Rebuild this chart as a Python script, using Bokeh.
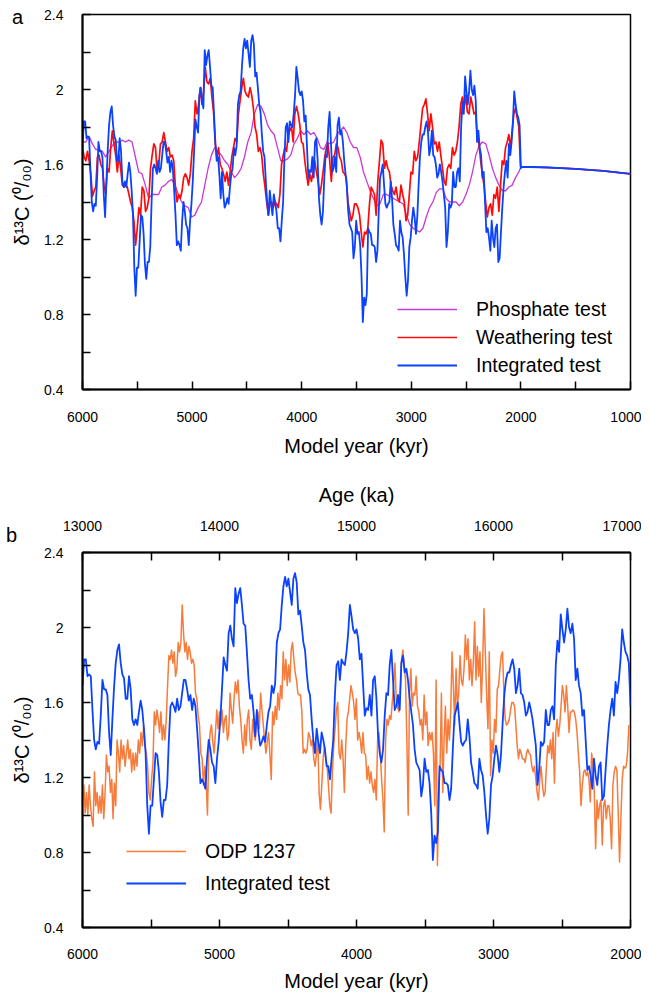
import numpy as np
from bokeh.plotting import figure
from bokeh.models import (Range1d, LinearAxis, FixedTicker, NumeralTickFormatter,
                          Legend, LegendItem, Div)
from bokeh.layouts import column
from bokeh.embed import file_html
from bokeh.resources import INLINE

# ---------------- data ----------------
# Panel a / b : Integrated test (model year 6000 -> 2000 kyr, regular steps)
integrated_start, integrated_end = 6000, 2000
integrated_d13c = [
    1.69, 1.83, 1.83, 1.74, 1.75, 1.74, 1.56, 1.40, 1.35, 1.39, 1.38, 1.53, 1.72, 1.67, 1.67, 1.64,
    1.44, 1.32, 1.51, 1.68, 1.81, 1.88, 1.91, 1.81, 1.75, 1.73, 1.62, 1.62, 1.74, 1.67, 1.51, 1.48,
    1.51, 1.48, 1.55, 1.61, 1.56, 1.46, 1.33, 1.05, 0.90, 1.05, 1.05, 1.19, 1.33, 1.32, 1.23, 1.07,
    0.99, 1.08, 1.08, 1.16, 1.40, 1.58, 1.60, 1.58, 1.55, 1.62, 1.56, 1.58, 1.65, 1.72, 1.72, 1.67,
    1.61, 1.64, 1.56, 1.62, 1.58, 1.46, 1.33, 1.17, 1.19, 1.17, 1.14, 1.30, 1.40, 1.35, 1.28, 1.26,
    1.17, 1.30, 1.39, 1.51, 1.67, 1.84, 1.80, 1.77, 1.97, 2.01, 1.94, 1.90, 2.21, 2.13, 2.18, 2.21,
    2.12, 2.02, 2.01, 1.87, 1.72, 1.62, 1.64, 1.55, 1.42, 1.56, 1.44, 1.37, 1.39, 1.42, 1.39, 1.48,
    1.55, 1.58, 1.69, 1.65, 1.70, 1.92, 1.97, 1.99, 2.12, 2.22, 2.27, 2.22, 2.26, 2.19, 2.12, 2.26,
    2.29, 2.24, 2.07, 2.09, 2.01, 1.92, 1.88, 1.76, 1.67, 1.64, 1.51, 1.40, 1.33, 1.46, 1.39, 1.33,
    1.44, 1.40, 1.35, 1.26, 1.26, 1.19, 1.30, 1.40, 1.64, 1.80, 1.82, 1.72, 1.83, 1.81, 1.80, 1.87,
    1.97, 2.12, 2.06, 1.99, 1.97,
    1.99, 1.94, 1.83, 1.86, 1.69, 1.53, 1.57, 1.56, 1.64, 1.53, 1.72, 1.74, 1.62, 1.42, 1.33, 1.28,
    1.35, 1.53, 1.65, 1.64, 1.80, 1.88, 1.72, 1.56, 1.58, 1.64, 1.56, 1.81, 1.85, 1.76, 1.78, 1.72,
    1.62, 1.55, 1.48, 1.35, 1.28, 1.26, 1.24, 1.10, 1.16, 1.30, 1.23, 1.24, 1.17, 1.01, 0.76, 0.89,
    0.85, 0.91, 1.26, 1.24, 1.23, 1.17, 1.17, 1.16, 1.08, 1.14, 1.35, 1.53, 1.56, 1.60, 1.49, 1.39,
    1.37, 1.39, 1.40, 1.51, 1.42, 1.28, 1.23, 1.17, 1.16, 1.14, 1.30, 1.24, 1.21, 1.12, 1.00, 0.90,
    0.98, 1.16, 1.21, 1.30, 1.37, 1.32, 1.23, 1.32, 1.49, 1.64, 1.72, 1.76, 1.76, 1.80, 1.83, 1.78,
    1.65, 1.69, 1.78, 1.65, 1.64, 1.60, 1.53, 1.55, 1.60, 1.56, 1.51, 1.44, 1.37, 1.16, 1.24, 1.39,
    1.37, 1.39, 1.56, 1.48, 1.48, 1.56, 1.58, 1.51, 1.80, 1.93, 1.87, 2.07, 1.99, 1.92, 1.99, 2.10,
    2.00, 1.97, 2.02, 1.94, 1.72, 1.78, 1.69, 1.65, 1.53, 1.56, 1.40, 1.24, 1.26, 1.21, 1.14, 1.30,
    1.21, 1.16, 1.26, 1.28, 1.08, 1.10, 1.24, 1.37, 1.48, 1.56, 1.62, 1.53, 1.71, 1.65, 1.72, 1.83,
    1.99, 1.92, 1.87, 1.85, 1.81, 1.58,
]

# Panel a : Weathering test (6000 -> 2004 kyr, regular steps)
weathering_start, weathering_end = 6000, 2004
weathering_d13c = [
    1.69, 1.64, 1.62, 1.67, 1.62, 1.55, 1.43, 1.46, 1.48, 1.64, 1.65, 1.60, 1.58, 1.49, 1.44, 1.58,
    1.56, 1.69, 1.78, 1.71, 1.65, 1.56, 1.65, 1.58, 1.49, 1.48, 1.49, 1.48, 1.44, 1.40, 1.37, 1.30,
    1.17, 1.26, 1.37, 1.33, 1.48, 1.46, 1.35, 1.37, 1.42, 1.58, 1.65, 1.71, 1.69, 1.56, 1.60, 1.71,
    1.72, 1.77, 1.72, 1.67, 1.69, 1.64, 1.65, 1.62, 1.48, 1.40, 1.44, 1.42, 1.46, 1.53, 1.55, 1.53,
    1.49, 1.55, 1.67, 1.74, 1.94, 1.87, 1.92, 2.01, 1.92, 1.99, 2.12, 2.04, 2.03, 2.06, 1.96, 1.88,
    1.71, 1.64, 1.69, 1.60, 1.58, 1.55, 1.51, 1.56, 1.49, 1.56, 1.64, 1.69, 1.74, 1.72, 1.87, 1.94,
    2.01, 2.06, 1.99, 1.97, 1.96, 2.01, 1.97, 1.90, 1.80, 1.76, 1.67, 1.69, 1.65, 1.55, 1.48, 1.40,
    1.33, 1.39, 1.40, 1.37, 1.40, 1.39, 1.37, 1.44, 1.60, 1.65, 1.69, 1.67, 1.76, 1.78, 1.80, 1.72,
    1.87, 1.91, 1.87, 1.81, 1.72, 1.71, 1.62, 1.55, 1.49, 1.55, 1.51, 1.56, 1.62, 1.56, 1.51, 1.44,
    1.49, 1.56, 1.64, 1.69, 1.71, 1.62, 1.51, 1.64, 1.65, 1.71, 1.69, 1.64, 1.62, 1.56, 1.55, 1.53,
    1.40, 1.35, 1.30, 1.33, 1.39,
    1.39, 1.37, 1.33, 1.24, 1.16, 1.24, 1.23, 1.26, 1.39, 1.48, 1.46, 1.44, 1.33, 1.51, 1.62, 1.73,
    1.71, 1.58, 1.62, 1.58, 1.56, 1.49, 1.46, 1.44, 1.48, 1.42, 1.40, 1.49, 1.44, 1.40, 1.30, 1.33,
    1.44, 1.56, 1.55, 1.67, 1.62, 1.64, 1.72, 1.81, 1.90, 1.92, 1.95, 1.87, 1.78, 1.87, 1.80, 1.71,
    1.72, 1.67, 1.72, 1.65, 1.58, 1.51, 1.49, 1.58, 1.60, 1.58, 1.69, 1.65, 1.67, 1.72, 1.80, 1.92,
    1.96, 1.90, 1.97, 1.88, 1.87, 1.96, 1.92, 1.87, 1.88, 1.74, 1.71, 1.62, 1.55, 1.49, 1.40, 1.32,
    1.37, 1.39, 1.33, 1.44, 1.42, 1.48, 1.35, 1.49, 1.62, 1.60, 1.69, 1.72, 1.76, 1.69, 1.78, 1.87,
    1.90, 1.85, 1.80, 1.59,
]

# Panel a : Phosphate test (6000 -> 2019 kyr, regular steps)
phosphate_start, phosphate_end = 6000, 2019
phosphate_d13c = [
    1.72, 1.72, 1.75, 1.71, 1.68, 1.68, 1.67, 1.64, 1.67, 1.70, 1.72, 1.72, 1.73, 1.72, 1.73, 1.72,
    1.64, 1.56, 1.55, 1.49, 1.42, 1.44, 1.44, 1.44, 1.48, 1.49, 1.51, 1.52, 1.49, 1.44, 1.40, 1.38,
    1.37, 1.32, 1.33, 1.37, 1.40, 1.49, 1.58, 1.65, 1.69, 1.67, 1.65, 1.62, 1.60, 1.56, 1.53, 1.55,
    1.58, 1.64, 1.72, 1.77, 1.87, 1.92, 1.91, 1.87, 1.81, 1.78, 1.76, 1.69, 1.62, 1.62, 1.63, 1.65,
    1.71, 1.74, 1.78, 1.76, 1.78, 1.76, 1.77, 1.74, 1.69, 1.68, 1.72, 1.71, 1.72, 1.76, 1.78, 1.80,
    1.77, 1.72, 1.69,
    1.69, 1.64, 1.56, 1.51, 1.46, 1.42, 1.38, 1.39, 1.44, 1.44, 1.43, 1.42, 1.41, 1.40, 1.39, 1.33,
    1.28, 1.26, 1.25, 1.24, 1.26, 1.32, 1.37, 1.40, 1.45, 1.47, 1.47, 1.42, 1.40, 1.40, 1.40, 1.38,
    1.40, 1.44, 1.49, 1.56, 1.65, 1.70, 1.72, 1.71, 1.65, 1.58, 1.53, 1.49, 1.46, 1.46, 1.48, 1.49,
    1.53, 1.56,
]

# Panel a : common tail after 2000 kyr (all three runs coincide)
tail_years = [2000, 1750, 1500, 1250, 1000]
tail_d13c = [1.588, 1.584, 1.577, 1.566, 1.550]

# Panel b : ODP 1237 record on the model-year axis (6000 -> 2012 kyr, regular steps)
odp_start, odp_end = 6000, 2012
odp1237_d13c = [
    1.08, 1.16, 1.01, 1.12, 1.00, 1.16, 1.05, 0.98, 0.94, 1.23, 1.05, 1.12, 1.01, 1.10, 1.01, 1.16,
    0.98, 1.12, 1.32, 1.23, 1.26, 1.12, 1.19, 0.98, 1.17, 1.05, 1.40, 1.33, 1.23, 1.40, 1.30, 1.37,
    1.26, 1.33, 1.40, 1.30, 1.35, 1.23, 1.33, 1.24, 1.33, 1.26, 1.40, 1.33, 1.44, 1.37, 1.48, 1.37,
    1.33, 1.26, 1.12, 1.08, 1.19, 1.28, 1.55, 1.48, 1.56, 1.51, 1.44, 1.55, 1.40, 1.48, 1.40, 1.51,
    1.69, 1.85, 1.83, 1.88, 1.81, 1.87, 1.74, 1.78, 1.92, 1.87, 1.92, 2.12, 1.97, 1.87, 1.92, 1.83,
    1.90, 1.87, 1.81, 1.83, 1.80, 1.65, 1.62, 1.53, 1.48, 1.33, 1.30, 1.16, 1.26, 1.19, 1.00, 1.33,
    1.44, 1.48, 1.39, 1.33, 1.44, 1.56, 1.46, 1.55, 1.48, 1.56, 1.44, 1.51, 1.53, 1.40, 1.44, 1.65,
    1.56, 1.49, 1.62, 1.71, 1.65, 1.72, 1.58, 1.51, 1.40, 1.33, 1.48, 1.37, 1.51, 1.56, 1.40, 1.35,
    1.51, 1.44, 1.40, 1.51, 1.55, 1.46, 1.65, 1.56, 1.48, 1.40, 1.33, 1.39, 1.44, 1.32, 1.19, 1.55,
    1.48, 1.58, 1.51, 1.65, 1.56, 1.69, 1.62, 1.87, 1.72, 1.83, 1.69, 1.80, 1.71, 1.88, 1.92, 1.83,
    1.76, 1.72, 1.65, 1.64, 1.64, 1.55, 1.33, 1.35, 1.33, 1.35, 1.44, 1.42, 1.37, 1.40, 1.30, 1.26,
    1.33, 1.40, 1.12, 1.03, 1.16, 1.30, 1.37, 1.30, 1.26, 1.16, 1.05, 1.01, 1.23, 1.37, 1.46, 1.56,
    1.60, 1.33, 1.30, 1.40, 1.30, 1.12, 1.37, 1.51, 1.55, 1.62, 1.69, 1.65, 1.60, 1.51,
    1.62, 1.40, 1.44, 1.40, 1.33, 1.44, 1.33, 1.32, 1.19, 1.26, 1.17, 1.23, 1.16, 1.12, 1.19, 1.08,
    1.40, 1.44, 1.33, 1.19, 1.08, 0.91, 1.40, 1.51, 1.48, 1.53, 1.51, 1.60, 1.69, 1.81, 1.62, 1.58,
    1.55, 1.65, 1.83, 1.88, 1.80, 1.72, 1.40, 1.00, 1.65, 1.78, 1.58, 1.65, 1.64, 1.74, 1.58, 1.55,
    1.48, 1.51, 1.40, 1.64, 1.48, 1.55, 1.37, 1.44, 1.40, 1.44, 1.33, 1.05, 1.72, 0.73, 1.16, 1.26,
    1.65, 1.12, 1.40, 1.58, 1.33, 1.51, 1.40, 1.55, 1.87, 1.69, 1.48, 1.78, 1.58, 1.65, 1.85, 1.72,
    1.69, 1.78, 1.96, 1.83, 1.94, 1.72, 1.83, 1.69, 1.81, 2.03, 1.72, 1.90, 1.74, 1.87, 1.60, 1.80,
    2.10, 1.87, 1.64, 1.46, 1.87, 1.21, 1.40, 1.33, 1.51, 1.44, 1.67, 1.69, 1.78, 1.85, 1.87, 1.65,
    1.51, 1.48, 1.49, 1.51, 1.56, 1.60, 1.60, 1.58, 1.48, 1.37, 1.30, 1.35, 1.33, 1.30, 1.30, 1.28,
    1.33, 1.35, 1.33, 1.32, 1.26, 1.23, 1.26, 1.19, 1.12, 1.08, 1.19, 1.26, 1.16, 1.10, 1.12, 1.26,
    1.37, 1.33, 1.40, 1.30, 1.44, 1.17, 1.44, 1.51, 1.42, 1.48, 1.58, 1.69, 1.64, 1.55, 1.69, 1.58,
    1.44, 1.55, 1.55, 1.56, 1.55, 1.51, 1.44, 1.33, 1.23, 1.05, 1.16, 1.23, 1.24, 1.21, 1.23, 1.19,
    1.07, 1.33, 1.26, 1.12, 0.82, 1.08, 0.98, 1.05, 1.08, 0.84, 1.05, 1.08, 0.98, 1.05, 1.05, 0.98,
    0.82, 1.16, 1.23, 1.26, 1.24, 1.01, 0.75, 0.98, 1.19, 1.26, 1.25, 1.26, 1.33, 1.48,
]

y_major = [0.4, 0.8, 1.2, 1.6, 2.0, 2.4]
y_minor = [0.6, 1.0, 1.4, 1.8, 2.2]
xa_major = [6000, 5000, 4000, 3000, 2000, 1000]
xa_minor = [5500, 4500, 3500, 2500, 1500]
xb_major = [6000, 5000, 4000, 3000, 2000]
xb_minor = [5500, 4500, 3500, 2500]
age_major = [13000, 14000, 15000, 16000, 17000]
age_minor = [13500, 14500, 15500, 16500]

# ---------------- styling ----------------
FONT = "Liberation Sans"
C_PHOS = "#c83ad8"
C_WEATH = "#ff0a0a"
C_INT = "#0a42ff"
C_ODP = "#f77b3b"
YLABEL = "\u03b4\u00b9\u00b3C (\u2070/\u2080\u2080)"


def style_axis(ax, major, minor, label_standoff, axis_standoff):
    ax.ticker = FixedTicker(ticks=major, minor_ticks=minor)
    ax.major_tick_in = 8
    ax.major_tick_out = 0
    ax.minor_tick_in = 8
    ax.minor_tick_out = 0
    ax.major_tick_line_width = 1.5
    ax.minor_tick_line_width = 1.5
    ax.major_tick_line_color = "black"
    ax.minor_tick_line_color = "black"
    ax.axis_line_width = 2
    ax.axis_line_color = "black"
    ax.major_label_text_font = FONT
    ax.major_label_text_font_size = "14px"
    ax.major_label_text_color = "black"
    ax.major_label_standoff = label_standoff
    ax.axis_label_text_font = FONT
    ax.axis_label_text_font_size = "20px"
    ax.axis_label_text_font_style = "normal"
    ax.axis_label_text_color = "black"
    ax.axis_label_standoff = axis_standoff


def base_figure(height, x0, x1, b_top, b_bottom):
    p = figure(width=641, height=height, x_range=Range1d(x0, x1), y_range=Range1d(0.4, 2.4),
               output_backend="svg", toolbar_location=None,
               min_border_left=82, min_border_right=11,
               min_border_top=b_top, min_border_bottom=b_bottom)
    p.xgrid.visible = False
    p.ygrid.visible = False
    p.outline_line_color = "black"
    p.outline_line_width = 1.5
    p.outline_line_alpha = 1.0
    p.background_fill_color = "white"
    p.border_fill_color = "white"
    return p


def panel_letter(letter, left, top):
    return Div(text=letter, margin=0, styles={
        "position": "absolute", "left": f"{left}px", "top": f"{top}px",
        "font-family": FONT, "font-size": "20px", "line-height": "20px",
        "color": "black", "z-index": "10"})


# ---------------- panel a ----------------
pa = base_figure(470, 6000, 1000, 14, 81)
style_axis(pa.yaxis[0], y_major, y_minor, 19, 8)
pa.yaxis[0].formatter = NumeralTickFormatter(format="0.[0]")
pa.yaxis[0].axis_label = YLABEL
style_axis(pa.xaxis[0], xa_major, xa_minor, 22, 10)
pa.xaxis[0].axis_label = "Model year (kyr)"

ph_years = list(np.linspace(phosphate_start, phosphate_end, len(phosphate_d13c))) + tail_years
we_years = list(np.linspace(weathering_start, weathering_end, len(weathering_d13c))) + tail_years
in_years = list(np.linspace(integrated_start, integrated_end, len(integrated_d13c))) + tail_years

r_ph = pa.line(ph_years, phosphate_d13c + tail_d13c, line_color=C_PHOS, line_width=1.3,
               line_join="round")
r_we = pa.line(we_years, weathering_d13c + tail_d13c, line_color=C_WEATH, line_width=1.7,
               line_join="round")
r_in = pa.line(in_years, integrated_d13c + tail_d13c, line_color=C_INT, line_width=1.8,
               line_join="round")

leg_a = Legend(items=[LegendItem(label="Phosphate test", renderers=[r_ph]),
                      LegendItem(label="Weathering test", renderers=[r_we]),
                      LegendItem(label="Integrated test", renderers=[r_in])],
               location=(315, 12), padding=0, margin=0, spacing=4,
               glyph_width=60, glyph_height=24, label_height=24, label_standoff=19,
               label_text_font=FONT, label_text_font_size="19.5px", label_text_color="black",
               border_line_alpha=0, background_fill_alpha=0)
pa.add_layout(leg_a)

# ---------------- panel b ----------------
pb = base_figure(526, 6000, 2000, 82, 69)
style_axis(pb.yaxis[0], y_major, y_minor, 19, 8)
pb.yaxis[0].formatter = NumeralTickFormatter(format="0.[0]")
pb.yaxis[0].axis_label = YLABEL
style_axis(pb.xaxis[0], xb_major, xb_minor, 21, 8)
pb.xaxis[0].axis_label = "Model year (kyr)"

pb.extra_x_ranges = {"age": Range1d(13000, 17000)}
top_ax = LinearAxis(x_range_name="age", axis_label="Age (ka)")
style_axis(top_ax, age_major, age_minor, 22, 12)
pb.add_layout(top_ax, "above")

odp_years = np.linspace(odp_start, odp_end, len(odp1237_d13c))
in_years_b = np.linspace(integrated_start, integrated_end, len(integrated_d13c))
r_odp = pb.line(odp_years, odp1237_d13c, line_color=C_ODP, line_width=1.5, line_join="round")
r_inb = pb.line(in_years_b, integrated_d13c, line_color=C_INT, line_width=1.8, line_join="round")

leg_b = Legend(items=[LegendItem(label="ODP 1237", renderers=[r_odp]),
                      LegendItem(label="Integrated test", renderers=[r_inb])],
               location=(44, 30), padding=0, margin=0, spacing=4,
               glyph_width=60, glyph_height=28, label_height=28, label_standoff=19,
               label_text_font=FONT, label_text_font_size="19.5px", label_text_color="black",
               border_line_alpha=0, background_fill_alpha=0)
pb.add_layout(leg_b)

layout = column(pa, pb, panel_letter("a", 12, 7), panel_letter("b", 6, 525))
open("out.html", "w").write(file_html(layout, INLINE))
